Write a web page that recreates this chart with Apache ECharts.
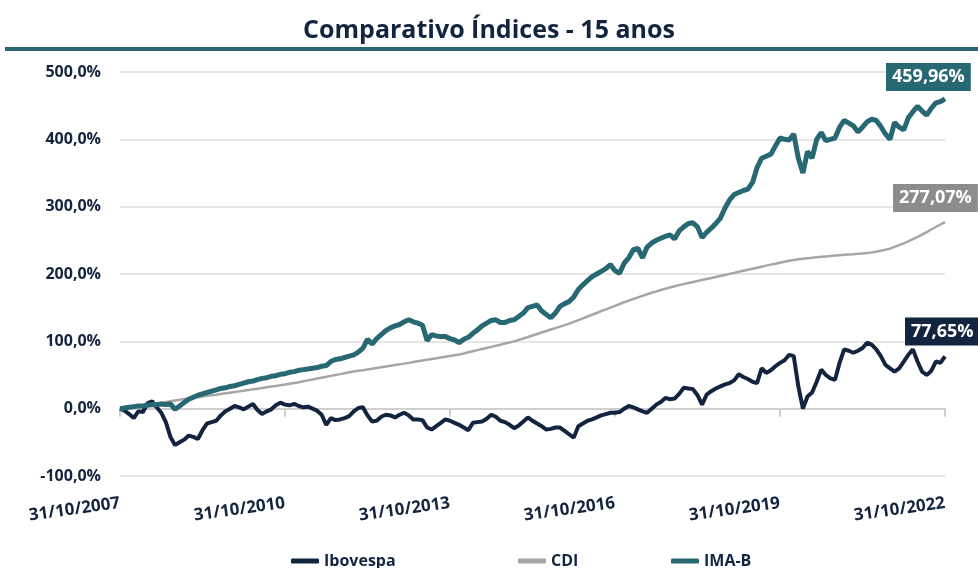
<!DOCTYPE html>
<html>
<head>
<meta charset="utf-8">
<script src="https://cdn.jsdelivr.net/npm/echarts@6/dist/echarts.min.js"></script>
<style>
  html, body { margin: 0; background: #fff; }
  #chart { width: 978px; height: 568px; }
</style>
</head>
<body>
<div id="chart"></div>
<script>
// monthly points, index 0 = 31/10/2007, index 180 = 31/10/2022 (cumulative return, %)
const xTickLabels = ['31/10/2007', '31/10/2010', '31/10/2013', '31/10/2016', '31/10/2019', '31/10/2022'];

const ibovespa = [
  0, -3, -8, -14, -4, -5, 8, 11, 2, -6, -20, -42, -54, -50, -46, -40, -42, -45, -32, -22,
  -20, -18, -10, -4, 0, 4, 2, -1, 3, 7, -2, -8, -4, -1, 5, 9, 6, 5, 7, 4,
  2, 3, 0, -3, -9, -24, -14, -17, -16, -14, -11, -4, 1, 2, -10, -19, -18, -12, -9, -10,
  -13, -9, -6, -10, -16, -16, -17, -28, -31, -26, -21, -16, -18, -21, -24, -28, -32, -21, -20, -19,
  -15, -9, -12, -18, -20, -24, -29, -25, -19, -13, -18, -22, -26, -31, -30, -28, -28, -33, -38, -43,
  -26, -22, -18, -16, -13, -10, -8, -6, -6, -5, 0, 4, 2, -1, -4, -6, 0, 6, 10, 16,
  14, 15, 22, 31, 30, 29, 20, 6, 21, 26, 30, 33, 36, 38, 42, 51, 47, 44, 40, 38,
  60, 53, 57, 63, 68, 72, 80, 78, 33, 0, 18, 24, 40, 58, 50, 45, 43, 68, 88, 86,
  83, 86, 90, 98, 95, 88, 78, 65, 60, 55, 60, 70, 80, 88, 70, 55, 50, 56, 70, 68,
  77.65
];

const cdi = [
  0, 0.9, 1.8, 2.8, 3.8, 4.8, 5.8, 6.8, 7.9, 8.9, 10.0, 11.1, 12.2, 13.3, 14.4, 15.3, 16.2, 17.1, 18.0, 19.0,
  19.9, 20.8, 21.8, 22.8, 23.8, 24.7, 25.7, 26.7, 27.7, 28.7, 29.7, 30.7, 31.8, 32.8, 33.8, 34.9, 35.9, 37.0, 38.0, 39.3,
  40.7, 42.0, 43.3, 44.7, 46.0, 47.3, 48.7, 50.0, 51.3, 52.7, 54.0, 55.1, 56.2, 57.2, 58.3, 59.4, 60.5, 61.5, 62.6, 63.7,
  64.8, 65.8, 66.9, 68.0, 69.2, 70.3, 71.4, 72.5, 73.7, 74.8, 75.9, 77.0, 78.2, 79.3, 80.4, 82.0, 83.7, 85.3, 86.9, 88.5,
  90.2, 91.8, 93.4, 95.0, 96.7, 98.3, 99.9, 102.1, 104.3, 106.5, 108.7, 110.9, 113.1, 115.3, 117.5, 119.7, 121.9, 124.1, 126.3, 128.9,
  131.6, 134.2, 136.9, 139.5, 142.1, 144.8, 147.4, 150.1, 152.7, 155.4, 158.0, 160.5, 162.9, 165.3, 167.6, 169.9, 172.1, 174.2, 176.2, 178.1,
  180.0, 181.8, 183.5, 185.0, 186.5, 188.0, 189.6, 191.1, 192.6, 194.1, 195.6, 197.1, 198.6, 200.2, 201.7, 203.3, 204.8, 206.3, 207.9, 209.4,
  210.9, 212.4, 213.9, 215.3, 216.8, 218.2, 219.7, 220.8, 221.8, 222.7, 223.5, 224.2, 224.9, 225.5, 226.1, 226.7, 227.3, 227.9, 228.5, 229.0,
  229.4, 229.9, 230.6, 231.3, 232.1, 233.1, 234.5, 235.9, 237.7, 240.2, 243.0, 245.6, 248.4, 251.7, 255.0, 258.5, 262.3, 266.1, 269.8, 273.5,
  277.07
];

const imab = [
  0, 1, 2, 3, 4, 4, 5, 6, 6, 7, 6, 7, -1, 4, 9, 14, 17, 20, 22, 24,
  26, 28, 30, 31, 33, 34, 36, 38, 40, 41, 43, 45, 46, 48, 49, 51, 52, 54, 55, 57,
  58, 59, 60, 61, 63, 64, 70, 73, 74, 76, 78, 80, 84, 90, 103, 96, 104, 110, 116, 120,
  123, 125, 129, 132, 129, 127, 124, 101, 110, 108, 107, 107, 104, 102, 98, 103, 106, 112, 117, 123,
  127, 131, 132, 128, 128, 131, 132, 137, 142, 150, 152, 154, 145, 140, 135, 142, 152, 156, 159, 166,
  177, 184, 190, 196, 200, 204, 208, 214, 205, 201, 216, 224, 236, 238, 224, 240, 246, 250, 253, 256,
  258, 252, 264, 270, 275, 276, 270, 254, 262, 268, 275, 283, 298, 310, 318, 321, 324, 326, 336, 358,
  372, 375, 378, 390, 402, 400, 399, 408, 372, 350, 382, 372, 400, 410, 398, 400, 402, 418, 428, 424,
  420, 411, 418, 426, 430, 428, 419, 408, 400, 425, 418, 414, 432, 441, 449, 442, 436, 446, 454, 456,
  459.96
];

const navy = '#13243f';
const teal = '#276873';
const grey = '#a6a6a6';
const greyBox = '#8c8c8c';
const fontFamily = '"Open Sans", "Noto Sans", sans-serif';

function pct(v, digits) {
  return v.toFixed(digits).replace('.', ',') + '%';
}

function endLabel(bg, dx, dy) {
  return {
    show: true,
    formatter: function (p) { return pct(p.value[1], 2); },
    color: '#fff',
    backgroundColor: bg,
    fontFamily: fontFamily,
    fontWeight: 'bold',
    fontSize: 18,
    padding: [6, 6, 4, 6],
    offset: [dx, dy]
  };
}

let chart = echarts.init(document.getElementById('chart'));
let option = {
  animation: false,
  textStyle: { fontFamily: fontFamily },
  title: {
    text: 'Comparativo Índices - 15 anos',
    left: 'center',
    top: 13,
    textStyle: { color: navy, fontSize: 25, fontWeight: 'bold', fontFamily: fontFamily }
  },
  graphic: [{
    type: 'rect',
    shape: { x: 5, y: 47, width: 973, height: 4 },
    style: { fill: '#2a6670' }
  }],
  grid: { left: 120, right: 33, top: 72, bottom: 92 },
  legend: [
    { data: ['Ibovespa'], left: 286, top: 548 },
    { data: ['CDI'], left: 513, top: 548 },
    { data: ['IMA-B'], left: 666, top: 548 }
  ].map(function (l) {
    return Object.assign(l, {
      icon: 'roundRect',
      itemWidth: 28,
      itemHeight: 5,
      itemGap: 4,
      textStyle: { color: navy, fontSize: 16, fontWeight: 'bold', fontFamily: fontFamily }
    });
  }),
  xAxis: [{
    type: 'value',
    min: 0,
    max: 180,
    interval: 36,
    position: 'bottom',
    axisLine: { show: false, onZero: false },
    axisTick: { show: false },
    splitLine: { show: false },
    axisLabel: {
      rotate: 8,
      margin: 27,
      color: navy,
      fontSize: 17,
      fontWeight: 'bold',
      formatter: function (v) { return xTickLabels[Math.round(v / 36)]; }
    }
  }, {
    // line on 0% with small tick marks below it
    type: 'value',
    min: 0,
    max: 180,
    interval: 36,
    position: 'top',
    axisLine: { show: true, onZero: true, lineStyle: { color: '#cfcfcf', width: 2 } },
    axisTick: { show: true, inside: true, length: 8, lineStyle: { color: '#cfcfcf', width: 2 } },
    axisLabel: { show: false },
    splitLine: { show: false }
  }],
  yAxis: {
    type: 'value',
    min: -100,
    max: 500,
    interval: 100,
    axisLine: { show: false },
    axisTick: { show: false },
    splitLine: { lineStyle: { color: '#e6e6e6', width: 2 } },
    axisLabel: {
      margin: 19,
      color: navy,
      fontSize: 16,
      fontWeight: 'bold',
      formatter: function (v) { return pct(v, 1); }
    }
  },
  series: [{
    name: 'Ibovespa',
    type: 'line',
    data: ibovespa.map(function (v, i) { return [i, v]; }),
    showSymbol: false,
    symbol: 'none',
    itemStyle: { color: navy },
    lineStyle: { color: navy, width: 4 },
    endLabel: endLabel(navy, -48, -25)
  }, {
    name: 'CDI',
    type: 'line',
    data: cdi.map(function (v, i) { return [i, v]; }),
    showSymbol: false,
    symbol: 'none',
    itemStyle: { color: grey },
    lineStyle: { color: grey, width: 2.5 },
    endLabel: endLabel(greyBox, -60, -24)
  }, {
    name: 'IMA-B',
    type: 'line',
    data: imab.map(function (v, i) { return [i, v]; }),
    showSymbol: false,
    symbol: 'none',
    itemStyle: { color: teal },
    lineStyle: { color: teal, width: 5 },
    endLabel: endLabel(teal, -67, -22)
  }]
};
chart.setOption(option);
</script>
</body>
</html>
